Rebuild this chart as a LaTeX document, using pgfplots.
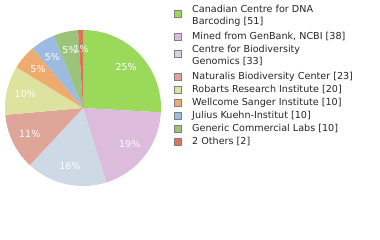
\documentclass[border=0pt]{standalone}
\usepackage{pgfplots}
\pgfplotsset{compat=1.18}
\usepackage{fontspec}
\setmainfont{DejaVu Sans}
\definecolor{c1}{RGB}{155,217,91}
\definecolor{c2}{RGB}{220,187,221}
\definecolor{c3}{RGB}{205,217,228}
\definecolor{c4}{RGB}{222,165,152}
\definecolor{c5}{RGB}{221,226,159}
\definecolor{c6}{RGB}{239,171,111}
\definecolor{c7}{RGB}{157,187,224}
\definecolor{c8}{RGB}{156,195,122}
\definecolor{c9}{RGB}{220,115,90}
% data values
\def\vA{51}\def\vB{38}\def\vC{33}\def\vD{23}\def\vE{20}\def\vF{10}\def\vG{10}\def\vH{10}\def\vI{2}
\pgfmathsetmacro\tot{\vA+\vB+\vC+\vD+\vE+\vF+\vG+\vH+\vI}
\pgfmathsetmacro\unit{360/\tot}
\pgfmathsetmacro\aA{90}
\pgfmathsetmacro\aB{\aA-\unit*\vA}
\pgfmathsetmacro\aC{\aB-\unit*\vB}
\pgfmathsetmacro\aD{\aC-\unit*\vC}
\pgfmathsetmacro\aE{\aD-\unit*\vD}
\pgfmathsetmacro\aF{\aE-\unit*\vE}
\pgfmathsetmacro\aG{\aF-\unit*\vF}
\pgfmathsetmacro\aH{\aG-\unit*\vG}
\pgfmathsetmacro\aI{\aH-\unit*\vH}
\pgfmathsetmacro\aJ{\aI-\unit*\vI}
\def\cx{83}\def\cy{132}\def\rr{78}
\newcommand{\slice}[3]{% color, start, end
  \addplot[fill=#1, draw=none, domain=#3:#2, samples=60]
    ({\cx+\rr*cos(x)},{\cy+\rr*sin(x)}) -- (axis cs:\cx,\cy) -- cycle;}
\newcommand{\plab}[3]{% start, end, text
  \pgfmathsetmacro\mdA{(#1+#2)/2}
  \pgfmathsetmacro\lx{\cx+0.76*\rr*cos(\mdA)}
  \pgfmathsetmacro\ly{\cy+0.76*\rr*sin(\mdA)}
  \edef\temp{\noexpand\node[text=white, font=\noexpand\fontsize{9.5}{11}\noexpand\selectfont, inner sep=0pt] at (axis cs:\lx,\ly) {#3};}
  \temp}
\newcommand{\lsq}[2]{% color, y center (from top)
  \node[draw=gray, fill=#1, line width=1pt, minimum size=7pt, inner sep=0pt] at (axis cs:178,{240-#2}) {};}
\newcommand{\ltx}[2]{% baseline y from top, text
  \node[anchor=base west, inner sep=0pt, font=\fontsize{9.6}{11}\selectfont, text=black!85] at (axis cs:192,{240-#1}) {#2};}
\begin{document}
\begin{tikzpicture}
\begin{axis}[scale only axis, width=380pt, height=240pt,
  xmin=0, xmax=380, ymin=0, ymax=240, hide axis, clip=false]
\slice{c1}{\aA}{\aB}
\slice{c2}{\aB}{\aC}
\slice{c3}{\aC}{\aD}
\slice{c4}{\aD}{\aE}
\slice{c5}{\aE}{\aF}
\slice{c6}{\aF}{\aG}
\slice{c7}{\aG}{\aH}
\slice{c8}{\aH}{\aI}
\slice{c9}{\aI}{\aJ}
\plab{\aA}{\aB}{25\%}
\plab{\aB}{\aC}{19\%}
\plab{\aC}{\aD}{16\%}
\plab{\aD}{\aE}{11\%}
\plab{\aE}{\aF}{10\%}
\plab{\aF}{\aG}{5\%}
\plab{\aG}{\aH}{5\%}
\plab{\aH}{\aI}{5\%}
\plab{\aI}{\aJ}{1\%}
\lsq{c1}{14}\lsq{c2}{37}\lsq{c3}{54}\lsq{c4}{77}\lsq{c5}{90}
\lsq{c6}{103}\lsq{c7}{116}\lsq{c8}{129}\lsq{c9}{142}
\ltx{12.5}{Canadian Centre for DNA}
\ltx{24.5}{Barcoding [51]}
\ltx{39.5}{Mined from GenBank, NCBI [38]}
\ltx{52.5}{Centre for Biodiversity}
\ltx{64.5}{Genomics [33]}
\ltx{79.5}{Naturalis Biodiversity Center [23]}
\ltx{92.5}{Robarts Research Institute [20]}
\ltx{105.5}{Wellcome Sanger Institute [10]}
\ltx{118.5}{Julius Kuehn-Institut [10]}
\ltx{131.5}{Generic Commercial Labs [10]}
\ltx{144.5}{2 Others [2]}
\end{axis}
\pgfresetboundingbox
\path[use as bounding box] (current axis.south west) rectangle (current axis.north east);
\end{tikzpicture}
\end{document}
